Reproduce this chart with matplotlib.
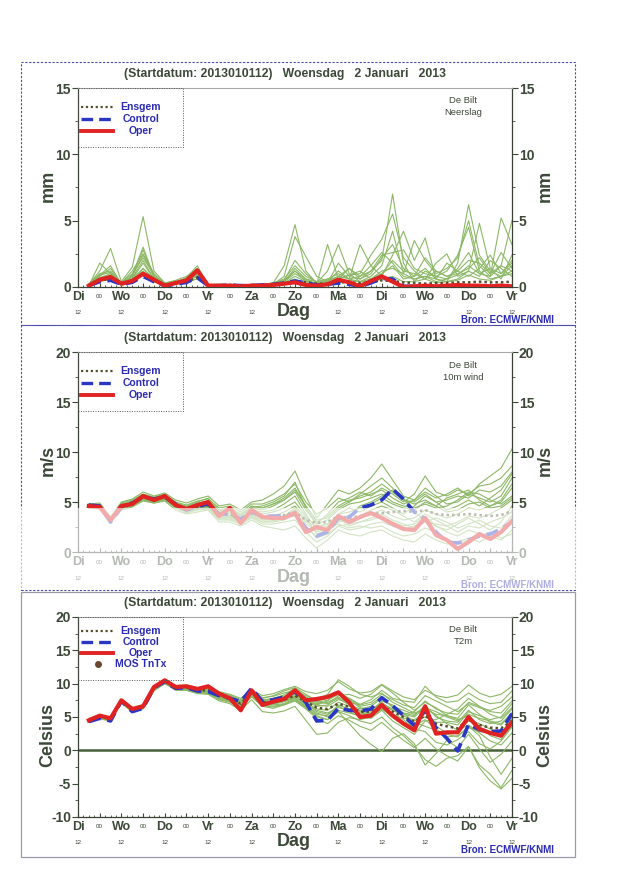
import matplotlib.pyplot as plt
import numpy as np
from matplotlib.patches import Rectangle

plt.rcParams['font.family'] = ['Liberation Sans', 'DejaVu Sans']
plt.rcParams['axes.unicode_minus'] = False

# lead time in days after Di 12 UTC, 6-hourly
lead = np.arange(6, 241, 6) / 24.0
day_names = ['Di', 'Wo', 'Do', 'Vr', 'Za', 'Zo', 'Ma', 'Di', 'Wo', 'Do', 'Vr']
title = "(Startdatum: 2013010112)   Woensdag   2 Januari   2013"

# Neerslag (mm)
rain_oper = [0.1, 0.55, 0.75, 0.25, 0.45, 1.0, 0.55, 0.1, 0.3, 0.5,
             1.25, 0.1, 0.1, 0.1, 0.05, 0.1, 0.1, 0.15, 0.25, 0.35,
             0.15, 0.1, 0.2, 0.55, 0.35, 0.05, 0.45, 0.8, 0.4, 0.0,
             0.05, 0.1, 0.05, 0.1, 0.15, 0.1, 0.1, 0.05, 0.1, 0.05]
rain_control = [0.1, 0.4, 0.5, 0.2, 0.35, 0.8, 0.4, 0.1, 0.2, 0.35,
                0.7, 0.1, 0.1, 0.15, 0.1, 0.1, 0.15, 0.2, 0.3, 0.45,
                0.3, 0.15, 0.2, 0.3, 0.2, 0.05, 0.3, 0.65, 0.6, 0.05,
                0.05, 0.05, 0.05, 0.05, 0.1, 0.05, 0.05, 0.05, 0.1, 0.05]
rain_ensgem = [0.1, 0.5, 0.6, 0.25, 0.5, 1.0, 0.5, 0.15, 0.25, 0.4,
               0.7, 0.15, 0.1, 0.1, 0.1, 0.1, 0.15, 0.2, 0.3, 0.4,
               0.35, 0.25, 0.25, 0.35, 0.35, 0.3, 0.35, 0.5, 0.45, 0.35,
               0.3, 0.25, 0.3, 0.3, 0.35, 0.35, 0.4, 0.35, 0.35, 0.4]
rain_members = [
    [0.2, 1.2, 2.9, 0.4, 1.5, 5.3, 1.2, 0.3, 0.5, 0.8, 1.4, 0.2, 0.1, 0.2, 0.1, 0.2, 0.2, 0.3, 1.6, 4.7,
     1.2, 0.3, 0.5, 0.8, 1.4, 0.6, 1.2, 2.0, 7.0, 1.8, 0.4, 1.2, 0.8, 0.6, 1.4, 2.6, 1.0, 0.8, 1.6, 5.0],
    [0.1, 0.8, 1.4, 0.2, 0.9, 3.0, 0.8, 0.2, 0.3, 0.6, 1.0, 0.1, 0.1, 0.1, 0.2, 0.1, 0.1, 0.2, 0.8, 3.8,
     2.3, 0.8, 0.4, 1.2, 0.6, 3.2, 1.6, 0.8, 2.4, 4.2, 2.0, 3.7, 0.6, 0.4, 1.8, 6.2, 2.4, 1.2, 0.8, 1.6],
    [0.1, 1.8, 1.0, 0.3, 1.2, 2.5, 1.0, 0.2, 0.4, 0.7, 1.6, 0.1, 0.1, 0.1, 0.1, 0.2, 0.1, 0.1, 0.4, 1.2,
     0.6, 0.2, 3.2, 0.6, 0.9, 1.0, 2.4, 3.6, 5.5, 2.2, 1.2, 0.6, 1.8, 2.5, 0.8, 1.2, 4.8, 1.4, 0.6, 2.4],
    [0.1, 0.6, 0.9, 0.2, 0.6, 1.8, 0.6, 0.1, 0.3, 0.5, 0.9, 0.1, 0.1, 0.1, 0.1, 0.1, 0.1, 0.2, 0.3, 0.8,
     0.4, 0.3, 1.2, 3.2, 1.0, 0.4, 0.8, 1.6, 4.2, 1.0, 3.5, 2.0, 1.0, 1.4, 2.2, 5.0, 1.6, 0.8, 5.2, 3.2],
    [0.2, 1.0, 1.2, 0.3, 1.0, 2.2, 0.9, 0.3, 0.4, 0.6, 1.1, 0.2, 0.1, 0.2, 0.1, 0.1, 0.2, 0.3, 0.6, 1.6,
     0.8, 0.4, 0.6, 0.6, 1.4, 0.8, 1.2, 2.4, 2.6, 2.8, 1.4, 1.0, 0.8, 1.2, 2.4, 4.5, 1.2, 0.6, 0.8, 1.0],
    [0.1, 0.5, 0.7, 0.1, 0.4, 1.4, 0.5, 0.1, 0.2, 0.4, 0.8, 0.1, 0.1, 0.1, 0.1, 0.1, 0.1, 0.1, 0.2, 0.5,
     0.3, 0.1, 0.2, 0.4, 0.3, 0.2, 0.5, 1.0, 1.6, 0.6, 0.8, 1.4, 0.6, 0.4, 0.6, 1.2, 0.8, 2.0, 1.4, 0.8],
    [0.1, 0.9, 1.6, 0.2, 0.8, 2.8, 0.7, 0.2, 0.3, 0.5, 1.0, 0.1, 0.1, 0.1, 0.1, 0.1, 0.1, 0.2, 0.4, 1.0,
     0.5, 0.2, 0.3, 1.8, 0.8, 0.6, 1.0, 2.2, 3.2, 1.4, 0.8, 2.2, 1.2, 0.8, 1.2, 2.0, 1.8, 1.0, 2.6, 1.4],
    [0.1, 0.7, 1.0, 0.2, 0.7, 2.0, 0.6, 0.2, 0.3, 0.6, 1.2, 0.1, 0.1, 0.1, 0.1, 0.1, 0.2, 0.2, 0.5, 2.0,
     1.0, 0.3, 0.4, 0.8, 0.6, 0.4, 0.6, 1.2, 1.4, 1.0, 0.6, 0.8, 0.4, 0.6, 0.9, 1.6, 1.0, 1.4, 1.0, 1.8],
    [0.1, 0.6, 0.8, 0.3, 0.6, 1.4, 0.6, 0.2, 0.3, 0.5, 0.9, 0.1, 0.1, 0.1, 0.1, 0.1, 0.2, 0.2, 0.4, 1.4,
     0.6, 0.4, 0.3, 0.6, 0.9, 1.2, 0.6, 1.0, 2.0, 1.2, 1.0, 0.6, 1.2, 0.8, 1.0, 1.4, 2.2, 1.0, 1.6, 1.2],
    [0.2, 0.9, 1.1, 0.3, 0.8, 2.4, 0.8, 0.2, 0.3, 0.6, 1.0, 0.1, 0.1, 0.1, 0.1, 0.1, 0.1, 0.3, 0.5, 1.2,
     0.4, 0.2, 0.6, 1.0, 0.6, 0.8, 1.6, 2.6, 1.8, 0.8, 0.6, 0.8, 0.6, 1.8, 1.2, 0.8, 1.4, 2.4, 1.0, 2.0],
    [0.1, 0.4, 0.6, 0.2, 0.5, 1.2, 0.4, 0.1, 0.2, 0.4, 0.6, 0.1, 0.1, 0.1, 0.1, 0.1, 0.1, 0.1, 0.3, 0.6,
     0.2, 0.1, 0.2, 0.3, 0.5, 0.4, 0.3, 0.6, 0.8, 0.4, 0.4, 0.6, 0.3, 0.4, 0.5, 0.9, 0.6, 0.5, 0.8, 1.2],
]

# 10m wind (m/s)
wind_oper = [4.6, 4.5, 3.2, 4.6, 4.8, 5.6, 5.2, 5.6, 4.7, 4.3,
             4.7, 5.0, 3.6, 4.4, 2.9, 4.2, 3.5, 3.4, 3.4, 3.9,
             2.0, 2.5, 2.2, 3.6, 3.0, 3.5, 3.9, 3.4, 2.8, 2.3,
             2.2, 3.4, 1.7, 1.2, 0.3, 1.0, 1.8, 1.3, 2.0, 3.1]
wind_control = [4.7, 4.6, 3.0, 4.5, 4.9, 5.5, 5.3, 5.5, 4.8, 4.2,
                4.6, 4.8, 3.8, 3.8, 3.3, 4.0, 3.6, 3.6, 3.6, 3.8,
                2.4, 1.6, 2.0, 3.4, 3.5, 4.4, 4.7, 5.2, 6.3, 5.3,
                4.0, 3.3, 2.0, 1.0, 0.9, 1.2, 1.6, 1.8, 2.3, 3.0]
wind_ensgem = [4.6, 4.6, 3.2, 4.6, 4.9, 5.5, 5.3, 5.5, 4.7, 4.3,
               4.5, 4.7, 3.8, 3.8, 3.3, 3.9, 3.6, 3.6, 3.7, 4.0,
               3.2, 2.9, 3.0, 3.6, 3.4, 3.6, 3.8, 3.9, 4.0, 4.1,
               4.0, 4.2, 3.8, 3.7, 3.7, 3.8, 3.7, 3.6, 3.7, 4.1]
wind_members = [
    [4.8, 4.9, 3.5, 5.0, 5.3, 6.0, 5.6, 5.9, 5.2, 4.9, 5.3, 5.6, 4.6, 4.8, 4.2, 5.0, 5.2, 5.8, 6.6, 8.1,
     5.6, 3.4, 4.8, 6.2, 5.8, 6.4, 7.4, 8.8, 7.2, 5.6, 5.2, 6.0, 5.4, 5.8, 6.4, 5.6, 6.8, 7.6, 8.4, 10.3],
    [4.4, 4.3, 2.9, 4.2, 4.5, 5.1, 4.9, 5.1, 4.2, 3.8, 4.0, 4.2, 3.0, 3.0, 2.6, 3.2, 2.6, 2.4, 2.2, 2.6,
     1.4, 0.4, 1.2, 2.2, 1.8, 1.6, 2.0, 2.2, 1.6, 1.2, 1.0, 1.8, 1.2, 0.8, 1.0, 1.4, 1.0, 1.6, 1.2, 2.2],
    [4.7, 4.7, 3.3, 4.8, 5.0, 5.7, 5.4, 5.7, 4.9, 4.6, 5.0, 5.4, 4.2, 4.4, 3.8, 4.6, 4.4, 4.8, 5.4, 6.4,
     4.6, 3.0, 3.6, 4.6, 5.2, 5.4, 5.8, 6.2, 5.4, 4.8, 5.2, 6.4, 5.6, 4.8, 5.0, 5.8, 5.4, 5.0, 5.6, 7.4],
    [4.5, 4.4, 3.0, 4.4, 4.7, 5.3, 5.0, 5.3, 4.5, 4.0, 4.3, 4.5, 3.4, 3.4, 3.0, 3.6, 3.0, 3.0, 3.2, 3.8,
     2.4, 1.6, 2.0, 3.0, 3.6, 4.6, 5.0, 5.6, 6.2, 5.4, 4.0, 3.2, 2.6, 2.2, 2.8, 3.4, 2.8, 2.2, 3.0, 4.6],
    [4.6, 4.6, 3.1, 4.6, 4.9, 5.5, 5.2, 5.5, 4.7, 4.3, 4.6, 4.8, 3.8, 3.9, 3.4, 4.2, 4.0, 4.2, 4.8, 5.6,
     3.8, 2.2, 2.6, 3.8, 4.4, 4.0, 4.6, 5.0, 4.4, 3.8, 4.6, 5.6, 5.0, 4.2, 4.6, 5.2, 4.6, 5.4, 6.2, 7.8],
    [4.5, 4.5, 3.2, 4.5, 4.8, 5.4, 5.1, 5.4, 4.6, 4.1, 4.4, 4.6, 3.6, 3.6, 3.2, 3.8, 3.2, 3.4, 3.6, 4.4,
     3.0, 2.6, 2.8, 3.4, 2.6, 3.0, 3.2, 3.6, 3.0, 2.6, 2.8, 3.6, 2.6, 2.0, 1.6, 2.2, 1.8, 1.4, 2.0, 3.0],
    [4.8, 4.8, 3.4, 4.9, 5.2, 5.8, 5.5, 5.8, 5.0, 4.7, 5.1, 5.3, 4.4, 4.6, 4.0, 4.8, 4.8, 5.2, 5.8, 6.8,
     5.0, 3.8, 4.4, 5.4, 5.0, 5.8, 6.6, 7.4, 6.4, 5.2, 4.8, 5.2, 4.6, 5.4, 5.8, 6.2, 5.2, 4.6, 5.0, 6.4],
    [4.4, 4.4, 3.0, 4.3, 4.6, 5.2, 4.9, 5.2, 4.4, 3.9, 4.2, 4.3, 3.2, 3.2, 2.8, 3.4, 2.8, 2.8, 3.0, 3.2,
     2.0, 1.0, 1.6, 2.6, 2.2, 2.4, 2.8, 3.0, 2.6, 2.2, 2.6, 3.0, 3.4, 3.0, 2.4, 2.8, 3.2, 2.6, 2.4, 3.6],
    [4.7, 4.6, 3.3, 4.7, 5.0, 5.6, 5.3, 5.6, 4.8, 4.4, 4.8, 5.0, 4.0, 4.2, 3.6, 4.4, 4.2, 4.6, 5.2, 6.0,
     4.2, 2.8, 3.2, 4.2, 4.8, 5.0, 5.4, 5.8, 5.0, 4.6, 4.4, 4.8, 4.4, 4.6, 5.2, 6.0, 5.8, 5.2, 4.8, 5.6],
    [4.6, 4.5, 3.1, 4.5, 4.8, 5.4, 5.2, 5.4, 4.6, 4.2, 4.5, 4.7, 3.7, 3.7, 3.2, 3.9, 3.4, 3.6, 4.0, 4.6,
     3.4, 1.8, 2.2, 3.2, 3.0, 3.4, 3.8, 4.2, 3.6, 3.2, 3.4, 4.2, 3.8, 3.4, 3.8, 4.4, 4.2, 4.6, 5.2, 6.8],
    [4.5, 4.5, 3.0, 4.4, 4.7, 5.3, 5.0, 5.3, 4.5, 4.1, 4.3, 4.4, 3.3, 3.3, 2.9, 3.5, 3.0, 3.1, 3.4, 4.0,
     2.8, 2.2, 2.4, 2.8, 2.4, 2.6, 2.4, 2.6, 2.0, 1.6, 1.8, 2.4, 2.0, 1.2, 0.8, 1.2, 1.6, 2.0, 1.4, 1.8],
    [4.7, 4.7, 3.3, 4.8, 5.1, 5.7, 5.4, 5.7, 4.9, 4.5, 4.9, 5.1, 4.1, 4.3, 3.7, 4.5, 4.6, 5.0, 5.6, 7.0,
     4.4, 2.8, 3.8, 5.0, 5.4, 6.0, 5.6, 6.4, 5.8, 5.0, 5.8, 7.6, 6.0, 5.6, 6.2, 5.8, 6.6, 6.8, 7.4, 8.6],
    [4.6, 4.6, 3.2, 4.6, 4.9, 5.5, 5.3, 5.5, 4.7, 4.3, 4.6, 4.8, 3.8, 3.9, 3.4, 4.1, 3.8, 4.0, 4.4, 5.0,
     3.6, 2.4, 2.8, 3.8, 4.0, 4.4, 4.8, 5.4, 4.8, 4.4, 4.2, 5.0, 4.6, 4.0, 4.2, 4.8, 5.0, 4.4, 4.6, 5.4],
    [4.5, 4.5, 3.1, 4.5, 4.8, 5.4, 5.1, 5.4, 4.6, 4.2, 4.4, 4.6, 3.6, 3.6, 3.1, 3.8, 3.3, 3.3, 3.6, 4.2,
     3.2, 2.0, 2.4, 3.0, 3.2, 3.6, 4.2, 4.6, 4.2, 3.6, 3.0, 3.8, 3.2, 2.6, 3.0, 3.6, 3.4, 3.8, 4.4, 5.2],
    [4.7, 4.7, 3.3, 4.7, 5.0, 5.6, 5.3, 5.6, 4.8, 4.5, 4.8, 5.0, 4.0, 4.1, 3.6, 4.4, 4.4, 4.8, 5.2, 6.2,
     4.6, 3.2, 3.4, 4.4, 5.0, 5.6, 6.0, 6.8, 6.0, 5.2, 5.0, 5.8, 5.0, 5.2, 5.6, 5.4, 6.2, 6.0, 6.6, 8.0],
    [4.5, 4.4, 3.0, 4.4, 4.7, 5.3, 5.0, 5.3, 4.5, 4.0, 4.3, 4.5, 3.4, 3.5, 3.0, 3.7, 3.2, 3.2, 3.4, 3.6,
     2.6, 1.4, 1.8, 2.6, 2.8, 3.0, 3.4, 3.8, 3.2, 2.8, 2.4, 3.0, 2.8, 2.6, 2.0, 2.6, 2.4, 3.0, 3.4, 4.0],
]

# T2m (Celsius)
t2m_oper = [4.5, 5.2, 4.8, 7.5, 6.2, 6.6, 9.5, 10.5, 9.5, 9.6,
            9.2, 9.6, 8.5, 7.8, 6.0, 9.0, 6.8, 7.3, 7.7, 9.0,
            7.5, 7.7, 8.0, 8.7, 7.2, 5.0, 5.2, 6.8, 5.2, 4.0,
            3.0, 6.6, 2.5, 2.7, 2.7, 5.0, 3.2, 2.6, 2.2, 4.2]
t2m_control = [4.3, 4.8, 4.4, 7.4, 5.8, 6.3, 9.4, 10.3, 9.3, 9.4,
               8.9, 8.8, 8.2, 7.8, 7.3, 9.3, 7.3, 7.6, 8.0, 8.8,
               7.2, 4.4, 4.5, 6.3, 6.0, 5.9, 6.2, 7.9, 6.7, 5.2,
               3.7, 6.0, 3.4, 1.8, -0.1, 3.9, 3.1, 2.8, 2.9, 5.5]
t2m_ensgem = [4.5, 5.0, 4.7, 7.4, 6.0, 6.5, 9.3, 10.3, 9.4, 9.4,
              9.0, 9.0, 8.2, 7.8, 7.0, 8.6, 7.2, 7.2, 7.6, 8.2,
              7.3, 6.4, 6.2, 7.0, 6.5, 5.8, 5.8, 6.6, 5.8, 5.0,
              4.3, 5.2, 4.0, 3.6, 3.3, 4.6, 3.8, 3.4, 3.3, 4.4]
t2m_members = [
    [4.8, 5.3, 5.0, 7.6, 6.3, 6.9, 9.6, 10.5, 9.7, 9.8, 9.4, 9.5, 8.8, 8.4, 7.8, 9.1, 8.2, 8.5, 9.1, 9.6,
     8.8, 8.5, 9.0, 10.3, 9.2, 8.6, 8.8, 9.9, 8.9, 8.0, 7.6, 9.0, 8.2, 7.9, 8.3, 9.8, 8.6, 8.0, 8.4, 9.6],
    [4.3, 4.8, 4.5, 7.2, 5.8, 6.3, 9.0, 10.1, 9.1, 9.0, 8.6, 8.5, 7.6, 7.2, 6.4, 8.0, 6.6, 6.3, 6.8, 7.4,
     6.2, 4.8, 4.0, 5.2, 4.5, 3.6, 3.0, 4.2, 2.8, 1.5, 0.4, 1.8, 0.2, -0.8, -1.6, 0.5, -2.2, -3.6, -5.6, -3.0],
    [4.6, 5.1, 4.8, 7.5, 6.1, 6.6, 9.4, 10.4, 9.5, 9.6, 9.2, 9.3, 8.4, 7.9, 7.2, 8.8, 7.5, 7.8, 8.3, 9.3,
     8.0, 7.2, 7.5, 8.4, 7.8, 6.6, 6.9, 8.0, 6.4, 5.6, 5.2, 6.8, 5.0, 4.4, 4.2, 6.0, 4.6, 4.0, 4.4, 6.2],
    [4.4, 4.9, 4.6, 7.3, 5.9, 6.4, 9.2, 10.2, 9.3, 9.2, 8.8, 8.7, 7.9, 7.5, 6.6, 8.3, 6.9, 6.8, 7.0, 7.8,
     6.5, 5.2, 4.6, 5.8, 4.0, 2.2, 0.9, -0.2, 1.8, 2.5, 1.0, -2.2, -0.5, 1.5, 0.4, 2.4, 0.2, -1.8, -0.6, 1.4],
    [4.5, 5.0, 4.7, 7.4, 6.1, 6.5, 9.3, 10.3, 9.4, 9.5, 9.1, 9.2, 8.5, 8.3, 7.6, 8.9, 7.8, 8.2, 8.9, 9.4,
     8.4, 7.4, 7.8, 8.6, 7.8, 6.9, 7.6, 9.0, 7.8, 7.4, 7.2, 9.6, 8.0, 7.2, 7.4, 8.6, 7.6, 7.0, 7.2, 8.9],
    [4.2, 4.7, 4.4, 7.1, 5.7, 6.2, 8.9, 10.0, 9.0, 9.0, 8.5, 8.4, 7.4, 7.0, 6.0, 7.6, 5.8, 5.6, 5.9, 6.6,
     4.5, 2.4, 2.6, 4.2, 4.9, 4.6, 5.0, 6.2, 5.5, 4.6, 3.2, 2.8, 1.2, 0.8, 1.6, 2.8, 1.0, 0.2, 1.4, 3.5],
    [4.7, 5.2, 4.9, 7.6, 6.2, 6.7, 9.5, 10.4, 9.6, 9.7, 9.3, 9.4, 8.7, 8.2, 7.4, 9.0, 7.9, 8.1, 8.6, 9.0,
     8.2, 7.6, 8.4, 10.6, 9.6, 8.4, 8.0, 8.6, 7.2, 6.4, 5.6, 6.2, 5.4, 5.2, 4.6, 5.2, 3.6, 2.2, 1.6, 3.8],
    [4.4, 4.9, 4.6, 7.4, 6.0, 6.4, 9.2, 10.2, 9.3, 9.3, 8.9, 8.9, 8.0, 7.6, 6.8, 8.5, 7.0, 7.0, 7.4, 8.0,
     7.0, 6.0, 5.6, 6.4, 6.0, 5.4, 5.8, 7.4, 6.8, 5.6, 4.2, 3.6, 3.0, 2.4, 2.0, 3.6, 2.2, -1.0, -3.6, -1.2],
    [4.6, 5.1, 4.8, 7.5, 6.1, 6.6, 9.4, 10.3, 9.4, 9.4, 9.0, 9.1, 8.3, 7.8, 7.1, 8.6, 7.3, 7.4, 7.9, 8.4,
     7.5, 6.8, 6.6, 7.6, 7.2, 6.8, 7.2, 8.4, 7.6, 6.8, 6.4, 8.2, 7.4, 6.6, 5.8, 7.0, 6.4, 6.0, 6.6, 8.0],
    [4.3, 4.8, 4.5, 7.2, 5.9, 6.3, 9.1, 10.1, 9.2, 9.1, 8.7, 8.6, 7.7, 7.3, 6.6, 8.1, 6.8, 6.6, 6.9, 7.6,
     6.6, 5.6, 5.0, 5.8, 5.2, 4.4, 4.0, 5.0, 3.4, 2.2, 0.6, -1.4, -2.4, -1.2, -0.8, 0.6, -2.6, -4.6, -5.8, -4.2],
    [4.5, 5.0, 4.7, 7.4, 6.0, 6.5, 9.3, 10.3, 9.5, 9.4, 8.9, 8.9, 8.1, 7.7, 7.0, 8.7, 7.2, 7.1, 7.5, 8.2,
     7.4, 6.6, 6.8, 8.2, 8.4, 7.8, 8.4, 9.8, 8.6, 7.2, 6.0, 7.2, 6.4, 5.2, 4.8, 6.8, 5.4, 4.2, 3.8, 5.6],
    [4.6, 5.1, 4.8, 7.5, 6.1, 6.6, 9.4, 10.4, 9.4, 9.5, 9.1, 9.0, 8.3, 7.9, 7.1, 8.7, 7.1, 7.3, 7.8, 8.6,
     7.0, 5.8, 5.4, 6.6, 5.8, 5.0, 4.8, 6.0, 4.4, 3.4, 2.4, 4.4, 4.6, 5.4, 6.2, 7.8, 6.6, 5.4, 4.8, 6.4],
    [4.5, 5.0, 4.7, 7.4, 6.0, 6.5, 9.3, 10.3, 9.3, 9.3, 9.0, 8.9, 8.1, 7.7, 6.9, 8.5, 7.2, 7.3, 7.7, 8.1,
     7.7, 7.0, 7.2, 8.0, 7.0, 5.8, 5.4, 6.4, 5.2, 4.8, 4.6, 5.6, 3.6, 2.6, 2.8, 4.4, 4.0, 3.2, 2.6, 4.8],
    [4.4, 4.9, 4.6, 7.3, 5.9, 6.4, 9.2, 10.2, 9.4, 9.3, 8.8, 8.8, 8.0, 7.6, 6.8, 8.4, 7.0, 6.9, 7.3, 8.0,
     7.2, 6.2, 6.0, 7.2, 6.6, 6.0, 6.2, 7.0, 6.0, 5.2, 4.4, 5.0, 4.2, 4.2, 3.8, 5.8, 5.2, 4.6, 5.0, 7.0],
    [4.6, 5.1, 4.8, 7.5, 6.2, 6.7, 9.5, 10.4, 9.5, 9.5, 9.1, 9.1, 8.4, 8.0, 7.3, 8.9, 7.6, 7.7, 8.1, 8.7,
     7.9, 7.3, 7.0, 7.8, 6.8, 6.2, 6.6, 7.8, 6.6, 6.0, 5.4, 6.4, 5.8, 5.0, 4.4, 5.4, 4.8, 4.4, 4.0, 5.6],
    [4.3, 4.8, 4.5, 7.3, 5.8, 6.3, 9.1, 10.1, 9.2, 9.2, 8.7, 8.6, 7.8, 7.4, 6.5, 8.2, 6.7, 6.5, 6.9, 7.5,
     6.4, 5.0, 4.6, 6.0, 5.6, 5.2, 5.6, 7.0, 6.2, 5.4, 5.0, 6.4, 5.2, 4.0, 3.0, 3.8, 2.6, 1.4, 0.8, 2.6],
    [4.5, 5.0, 4.7, 7.4, 6.0, 6.5, 9.3, 10.3, 9.4, 9.4, 9.0, 9.0, 8.2, 7.8, 7.0, 8.6, 7.4, 7.6, 8.0, 8.4,
     7.6, 6.8, 7.4, 8.8, 7.6, 6.4, 6.0, 7.2, 6.0, 5.4, 5.8, 7.4, 6.2, 5.6, 5.4, 7.2, 6.6, 5.8, 5.6, 7.4],
    [4.4, 4.9, 4.6, 7.4, 6.0, 6.4, 9.2, 10.2, 9.3, 9.3, 8.8, 8.8, 8.0, 7.6, 6.8, 8.4, 7.0, 7.1, 7.3, 7.8,
     6.8, 5.4, 5.2, 6.8, 6.2, 5.6, 5.2, 6.2, 5.0, 4.2, 3.6, 4.6, 3.2, 2.0, 2.2, 3.4, 2.8, 2.6, 2.0, 3.6],
]

TEXT = "#3c4838"
BLUE_TXT = "#2a2ab4"
GREEN = "#8cb866"
MEAN = "#55502c"
BLUE = "#2a36c4"
RED = "#e02222"

fig = plt.figure(figsize=(6.4, 8.8), dpi=100)
fig.patch.set_facecolor("white")


def draw_panel(rect, members, ensgem, control, oper, ylim, ystep, ylabel, ylab_y, station, mos=False):
    ax = fig.add_axes(rect)
    for m in members:
        ax.plot(lead, m, color=GREEN, lw=0.8, zorder=2)
    if ylim[0] < 0:
        ax.axhline(0, color="#46603a", lw=1.8, zorder=1.5)
    ax.plot(lead, ensgem, color=MEAN, lw=1.8, ls=(0, (1, 1.2)), zorder=3)
    ax.plot(lead, control, color=BLUE, lw=2.6, ls=(0, (3.5, 1.8)), zorder=4)
    ax.plot(lead, oper, color=RED, lw=3.0, zorder=5)

    ax.set_xlim(0, 10)
    ax.set_ylim(*ylim)
    ax.set_yticks(np.arange(ylim[0], ylim[1] + 0.1, ystep))
    ax.set_yticks(np.arange(ylim[0], ylim[1] + 0.1, ystep / 2), minor=True)
    ax.set_xticks(np.arange(0, 10.01, 0.5))
    ax.set_xticks(np.arange(0, 10.01, 0.125), minor=True)
    ax.tick_params(axis="x", which="both", direction="in", labelbottom=False, color=TEXT)
    ax.tick_params(axis="x", which="major", length=3)
    ax.tick_params(axis="x", which="minor", length=1.5)
    ax.tick_params(axis="y", which="both", left=True, right=True, labelleft=True, labelright=True,
                   color=TEXT, labelcolor=TEXT, labelsize=10, pad=1)
    ax.tick_params(axis="y", which="major", length=4)
    ax.tick_params(axis="y", which="minor", length=2)
    for lab in ax.get_yticklabels():
        lab.set_fontweight("bold")
    for s in ["left", "right", "bottom"]:
        ax.spines[s].set_color("#3a4236")
        ax.spines[s].set_linewidth(0.9)
    ax.spines["top"].set_color("#a8a8a8")

    # x labels: day names at 12 UTC, "00" in between, "12" row below (left out under "Dag")
    for i, name in enumerate(day_names):
        ax.text(i, -0.05, name, transform=ax.get_xaxis_transform(), ha="center", va="center",
                fontsize=9, fontweight="bold", color=TEXT)
        if i != 5:
            ax.text(i, -0.13, "12", transform=ax.get_xaxis_transform(), ha="center", va="center",
                    fontsize=4.5, color=TEXT)
        if i < 10:
            ax.text(i + 0.5, -0.05, "00", transform=ax.get_xaxis_transform(), ha="center", va="center",
                    fontsize=4.5, color=TEXT)
    ax.text(0.498, -0.125, "Dag", transform=ax.transAxes, ha="center", va="center",
            fontsize=13, fontweight="bold", color=TEXT)
    ax.text(0.99, -0.165, "Bron: ECMWF/KNMI", transform=ax.transAxes, ha="center", va="center",
            fontsize=7, fontweight="bold", color=BLUE_TXT)

    ax.text(0.477, 1.07, title, transform=ax.transAxes, ha="center", va="center",
            fontsize=8.8, fontweight="bold", color=TEXT)
    ax.text(-0.069, ylab_y, ylabel, transform=ax.transAxes, ha="center", va="center", rotation=90,
            fontsize=13, fontweight="bold", color=TEXT)
    ax.text(1.076, ylab_y, ylabel, transform=ax.transAxes, ha="center", va="center", rotation=90,
            fontsize=13, fontweight="bold", color=TEXT)
    ax.text(0.887, 0.935, "De Bilt", transform=ax.transAxes, ha="center", va="center",
            fontsize=6.8, color=TEXT)
    ax.text(0.887, 0.875, station, transform=ax.transAxes, ha="center", va="center",
            fontsize=6.8, color=TEXT)

    # legend box
    rows = ["Ensgem", "Control", "Oper"] + (["MOS TnTx"] if mos else [])
    if mos:
        ys = [0.93, 0.875, 0.82, 0.765]
        box_bottom = 0.685
    else:
        ys = [0.905, 0.845, 0.785]
        box_bottom = 0.703
    ax.add_patch(Rectangle((0, box_bottom), 0.242, 1 - box_bottom, transform=ax.transAxes,
                           fill=False, ls=(0, (1, 1.5)), lw=0.7, ec="#555555", zorder=6))
    styles = [dict(color=MEAN, lw=1.6, ls=(0, (1, 1.2))),
              dict(color=BLUE, lw=2.4, ls=(0, (3.5, 1.8))),
              dict(color=RED, lw=2.8, ls="-")]
    for k, lab in enumerate(rows):
        if k < 3:
            ax.plot([0.008, 0.08], [ys[k], ys[k]], transform=ax.transAxes, zorder=7, **styles[k])
        else:
            ax.plot([0.045], [ys[k]], "o", color="#6a4630", ms=4, transform=ax.transAxes, zorder=7)
        ax.text(0.145, ys[k], lab, transform=ax.transAxes, ha="center", va="center",
                fontsize=7.5, fontweight="bold", color=BLUE_TXT, zorder=7)
    return ax


draw_panel([0.1219, 0.6739, 0.678, 0.2261], rain_members, rain_ensgem, rain_control, rain_oper,
           (0, 15), 5, "mm", 0.51, "Neerslag")
draw_panel([0.1219, 0.3727, 0.678, 0.2273], wind_members, wind_ensgem, wind_control, wind_oper,
           (0, 20), 5, "m/s", 0.46, "10m wind")
draw_panel([0.1219, 0.0716, 0.678, 0.2273], t2m_members, t2m_ensgem, t2m_control, t2m_oper,
           (-10, 20), 5, "Celsius", 0.41, "T2m", mos=True)

# panel frames
fig.add_artist(Rectangle((0.033, 0.6307), 0.865, 0.2988, transform=fig.transFigure, fill=False,
                         ec="#4a4aa8", lw=0.8, ls=(0, (2, 1.5)), zorder=8))
fig.add_artist(Rectangle((0.033, 0.3295), 0.865, 0.3012, transform=fig.transFigure, fill=False,
                         ec="#4a4aa8", lw=0.8, ls=(0, (2, 1.5)), zorder=8))
fig.add_artist(Rectangle((0.033, 0.0261), 0.865, 0.3012, transform=fig.transFigure, fill=False,
                         ec="#9a9aa8", lw=0.9, zorder=8))

# washed-out band in the wind panel
fig.add_artist(Rectangle((0.0, 0.3295), 1.0, 0.0932, transform=fig.transFigure,
                         fc="white", ec="none", alpha=0.62, zorder=20))

fig.savefig("out.png", dpi=100)
